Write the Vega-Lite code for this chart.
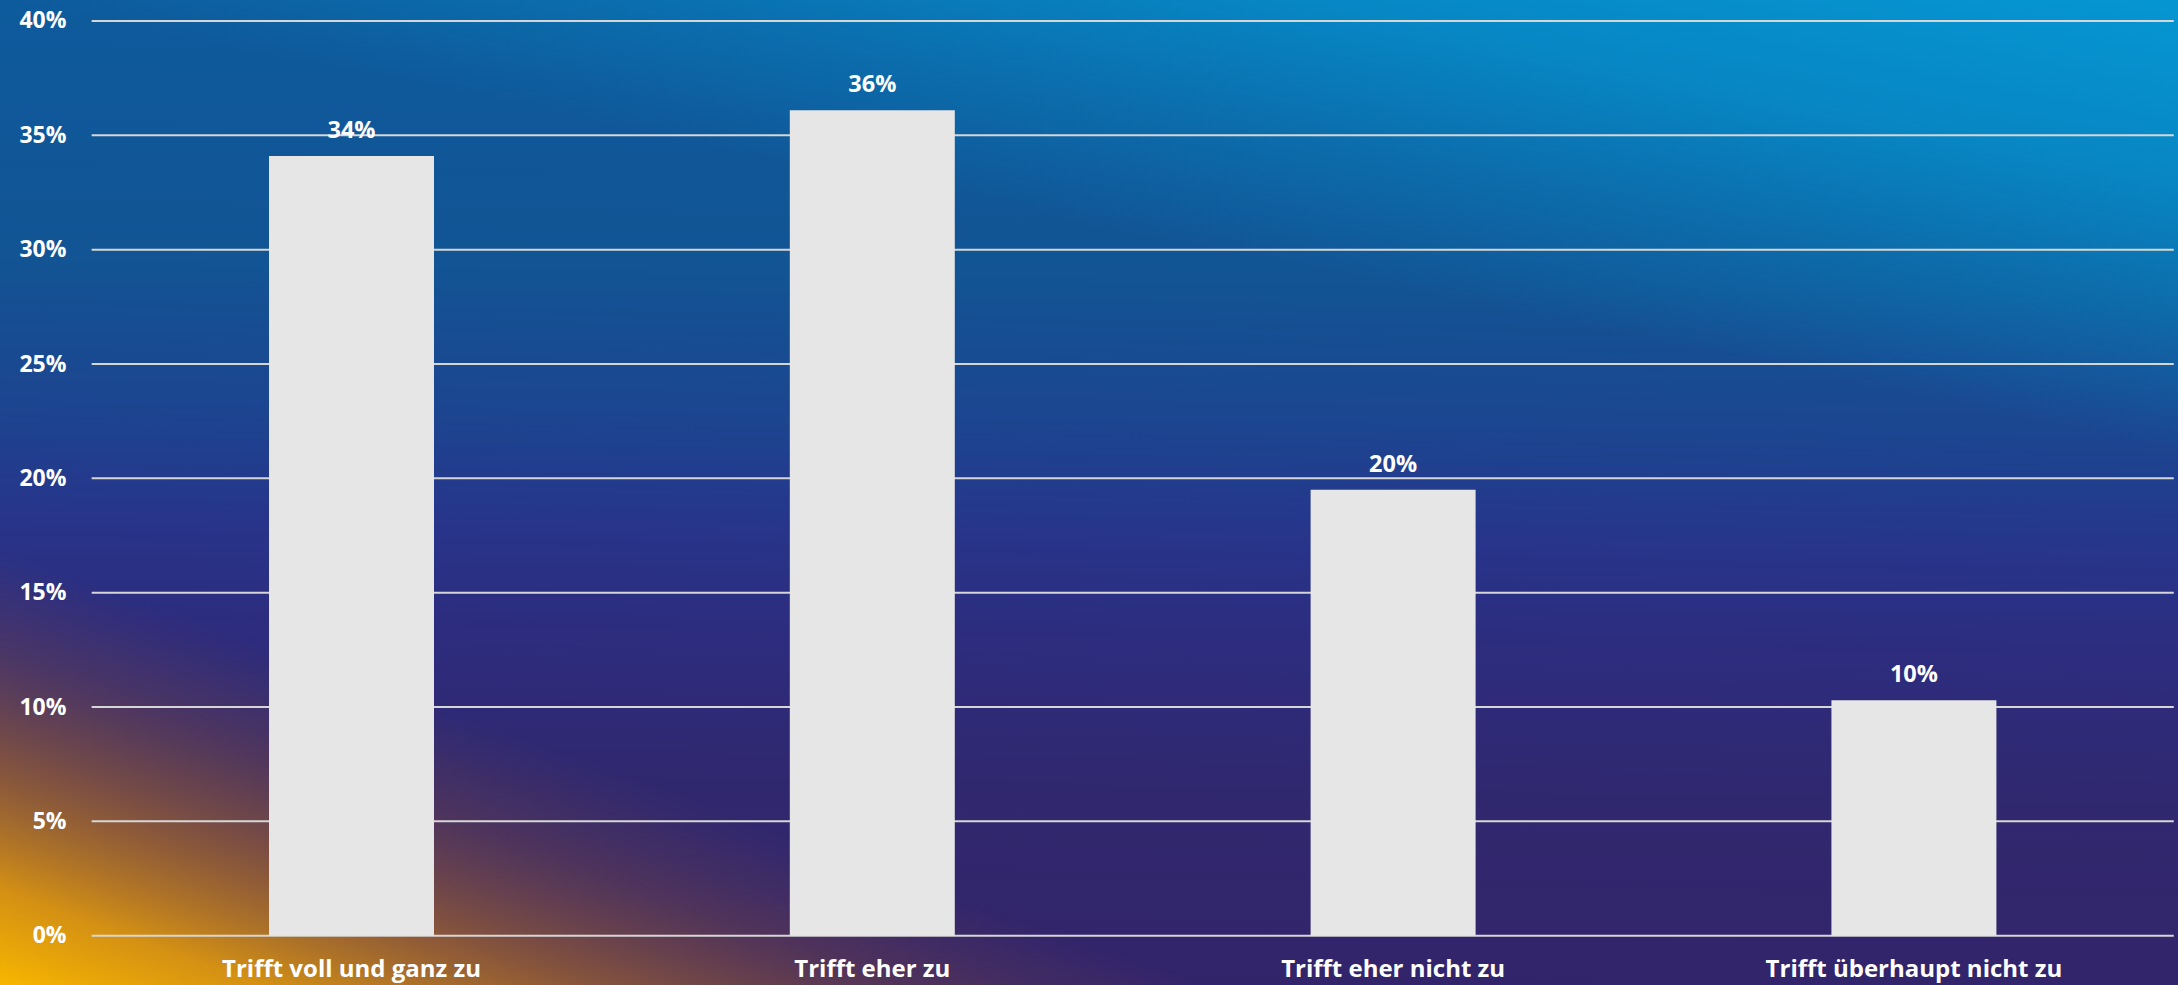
{
  "$schema": "https://vega.github.io/schema/vega-lite/v6.json",
  "width": 2178,
  "height": 985,
  "autosize": {"type": "none"},
  "padding": 0,
  "background": "#2c2a78",
  "config": {
    "view": {"stroke": null},
    "font": "Open Sans"
  },
  "datasets": {
    "umfrage": [
      {"kategorie": "Trifft voll und ganz zu", "anteil": 34.1},
      {"kategorie": "Trifft eher zu", "anteil": 36.1},
      {"kategorie": "Trifft eher nicht zu", "anteil": 19.5},
      {"kategorie": "Trifft überhaupt nicht zu", "anteil": 10.3}
    ],
    "gitter": [
      {"v": 0}, {"v": 5}, {"v": 10}, {"v": 15}, {"v": 20},
      {"v": 25}, {"v": 30}, {"v": 35}, {"v": 40}
    ],
    "flaeche": [{"teil": "hintergrund"}]
  },
  "layer": [
    {
      "data": {"name": "flaeche"},
      "mark": {
        "type": "rect",
        "x": 0, "y": 0,
        "x2": {"expr": "width"}, "y2": {"expr": "height"},
        "color": {
          "gradient": "linear",
          "x1": 0.52, "y1": 0, "x2": 0.48, "y2": 1,
          "stops": [
            {"offset": 0, "color": "#0d5b9d"},
            {"offset": 0.28, "color": "#125494"},
            {"offset": 0.43, "color": "#1c4590"},
            {"offset": 0.54, "color": "#27358a"},
            {"offset": 0.65, "color": "#2d2c7e"},
            {"offset": 0.8, "color": "#30286f"},
            {"offset": 1, "color": "#33246a"}
          ]
        }
      },
      "encoding": {}
    },
    {
      "data": {"name": "flaeche"},
      "mark": {
        "type": "rect",
        "x": 0, "y": 0,
        "x2": {"expr": "width"}, "y2": {"expr": "height"},
        "color": {
          "gradient": "linear",
          "x1": 0.827, "y1": 0.378, "x2": 1, "y2": 0,
          "stops": [
            {"offset": 0, "color": "rgba(5,150,210,0)"},
            {"offset": 0.3, "color": "rgba(5,150,210,0.35)"},
            {"offset": 0.6, "color": "rgba(5,150,210,0.75)"},
            {"offset": 1, "color": "rgba(5,150,210,1)"}
          ]
        }
      },
      "encoding": {}
    },
    {
      "data": {"name": "flaeche"},
      "mark": {
        "type": "rect",
        "x": 0, "y": 0,
        "x2": {"expr": "width"}, "y2": {"expr": "height"},
        "color": {
          "gradient": "linear",
          "x1": 0, "y1": 1, "x2": 0.215, "y2": 0.73,
          "stops": [
            {"offset": 0, "color": "rgba(248,182,0,1)"},
            {"offset": 0.22, "color": "rgba(220,150,15,0.95)"},
            {"offset": 0.48, "color": "rgba(170,105,40,0.72)"},
            {"offset": 0.75, "color": "rgba(140,80,55,0.33)"},
            {"offset": 1, "color": "rgba(120,70,70,0)"}
          ]
        }
      },
      "encoding": {}
    },
    {
      "data": {"name": "gitter"},
      "mark": {"type": "rule", "color": "#d6d6d6", "strokeWidth": 2},
      "encoding": {
        "y": {"field": "v", "type": "quantitative", "title": null},
        "x": {"datum": "Trifft voll und ganz zu", "type": "nominal", "bandPosition": -1.075},
        "x2": {"datum": "Trifft überhaupt nicht zu", "bandPosition": 2.075}
      }
    },
    {
      "data": {"name": "umfrage"},
      "mark": {"type": "bar", "color": "#e6e6e6"},
      "encoding": {
        "x": {
          "field": "kategorie", "type": "nominal", "sort": null, "title": null,
          "scale": {
            "domain": ["Trifft voll und ganz zu", "Trifft eher zu", "Trifft eher nicht zu", "Trifft überhaupt nicht zu"],
            "paddingInner": 0.6832, "paddingOuter": 0.4326, "align": 0.597
          },
          "axis": {
            "orient": "bottom", "offset": -49.3, "domain": false, "ticks": false,
            "grid": false, "labelAngle": 0, "labelAlign": "center", "labelPadding": 41,
            "labelBaseline": "alphabetic", "labelFont": "Open Sans",
            "labelFontWeight": "bold", "labelFontSize": 24,
            "labelColor": "#ffffff", "labelLimit": 0, "zindex": 1
          }
        },
        "y": {
          "field": "anteil", "type": "quantitative", "title": null,
          "scale": {"domain": [-2.156, 40.918], "nice": false, "zero": false},
          "axis": {
            "orient": "left", "offset": -66, "domain": false, "ticks": false,
            "grid": false, "values": [0, 5, 10, 15, 20, 25, 30, 35, 40],
            "labelExpr": "datum.value + '%'", "labelPadding": 0,
            "labelBaseline": "middle", "labelFont": "Open Sans",
            "labelFontWeight": "bold", "labelFontSize": 23,
            "labelColor": "#ffffff", "zindex": 1
          }
        },
        "y2": {"datum": 0}
      }
    },
    {
      "data": {"name": "umfrage"},
      "transform": [{"calculate": "round(datum.anteil) + '%'", "as": "beschriftung"}],
      "mark": {
        "type": "text", "align": "center", "baseline": "alphabetic", "dy": -18,
        "font": "Open Sans", "fontWeight": "bold", "fontSize": 23.5, "color": "#ffffff"
      },
      "encoding": {
        "x": {"field": "kategorie", "type": "nominal", "sort": null, "title": null},
        "y": {"field": "anteil", "type": "quantitative", "title": null},
        "text": {"field": "beschriftung", "type": "nominal"}
      }
    }
  ]
}
